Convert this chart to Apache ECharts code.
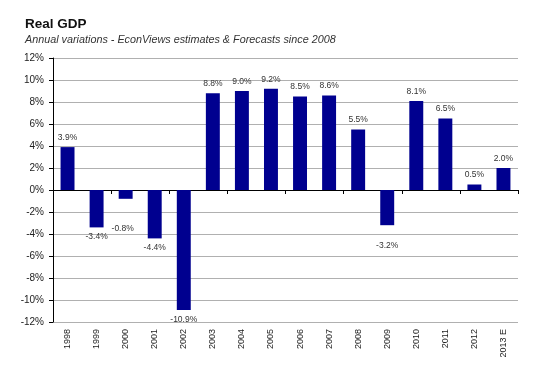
<!DOCTYPE html>
<html><head><meta charset="utf-8">
<script src="https://cdn.jsdelivr.net/npm/echarts@6/dist/echarts.min.js"></script>
<style>html,body{margin:0;padding:0;background:#fff}#c{width:533px;height:373px}</style>
</head><body><div id="c"></div>
<script>
const categories = ['1998','1999','2000','2001','2002','2003','2004','2005','2006','2007','2008','2009','2010','2011','2012','2013 E'];
const gdpValues = [3.9, -3.4, -0.8, -4.4, -10.9, 8.8, 9.0, 9.2, 8.5, 8.6, 5.5, -3.2, 8.1, 6.5, 0.5, 2.0];
const yTicks = [-12, -10, -8, -6, -4, -2, 0, 2, 4, 6, 8, 10, 12];

// extra label shifts (style only)
const extraShift = {2: [-3, 20], 11: [0, 11]};

const font = 'Liberation Sans, Arial, sans-serif';
const chart = echarts.init(document.getElementById('c'));
chart.setOption({
  animation: false,
  backgroundColor: '#fff',
  title: {
    text: 'Real GDP',
    subtext: 'Annual variations - EconViews estimates & Forecasts since 2008',
    left: 25, top: 17, itemGap: 3, padding: 0,
    textStyle: {fontFamily: font, fontSize: 13.5, fontWeight: 'bold', color: '#111'},
    subtextStyle: {fontFamily: font, fontSize: 10.8, fontStyle: 'italic', color: '#333'}
  },
  grid: {left: 53, right: 15, top: 58, bottom: 51},
  xAxis: [{
    type: 'category', data: categories, position: 'bottom',
    axisLine: {onZero: true, lineStyle: {color: '#000', width: 1}},
    axisTick: {show: true, length: 4, lineStyle: {color: '#000'}},
    axisLabel: {show: false}
  }, {
    type: 'category', data: categories, position: 'bottom',
    axisLine: {show: false, onZero: false}, axisTick: {show: false},
    axisLabel: {rotate: 90, fontFamily: font, fontSize: 9, color: '#222', margin: 7}
  }],
  yAxis: {
    type: 'value', min: -12, max: 12, interval: 2,
    axisLine: {show: true, lineStyle: {color: '#000'}},
    axisTick: {show: true, length: 4, lineStyle: {color: '#000'}},
    axisLabel: {formatter: v => yTicks.includes(v) ? v + '%' : '', fontFamily: font, fontSize: 10, color: '#222', margin: 9},
    splitLine: {lineStyle: {color: '#b0b0b0', width: 1}}
  },
  series: [{
    type: 'bar', xAxisIndex: 0, barWidth: '48%',
    itemStyle: {color: '#00008f'},
    data: gdpValues.map((v, i) => ({
      value: v,
      label: {
        show: true,
        position: v >= 0 ? 'top' : 'bottom',
        distance: 5,
        offset: extraShift[i] || [0, 0],
        formatter: p => p.value.toFixed(1) + '%',
        fontFamily: font, fontSize: 8.5, color: '#333'
      }
    }))
  }]
});
</script></body></html>
